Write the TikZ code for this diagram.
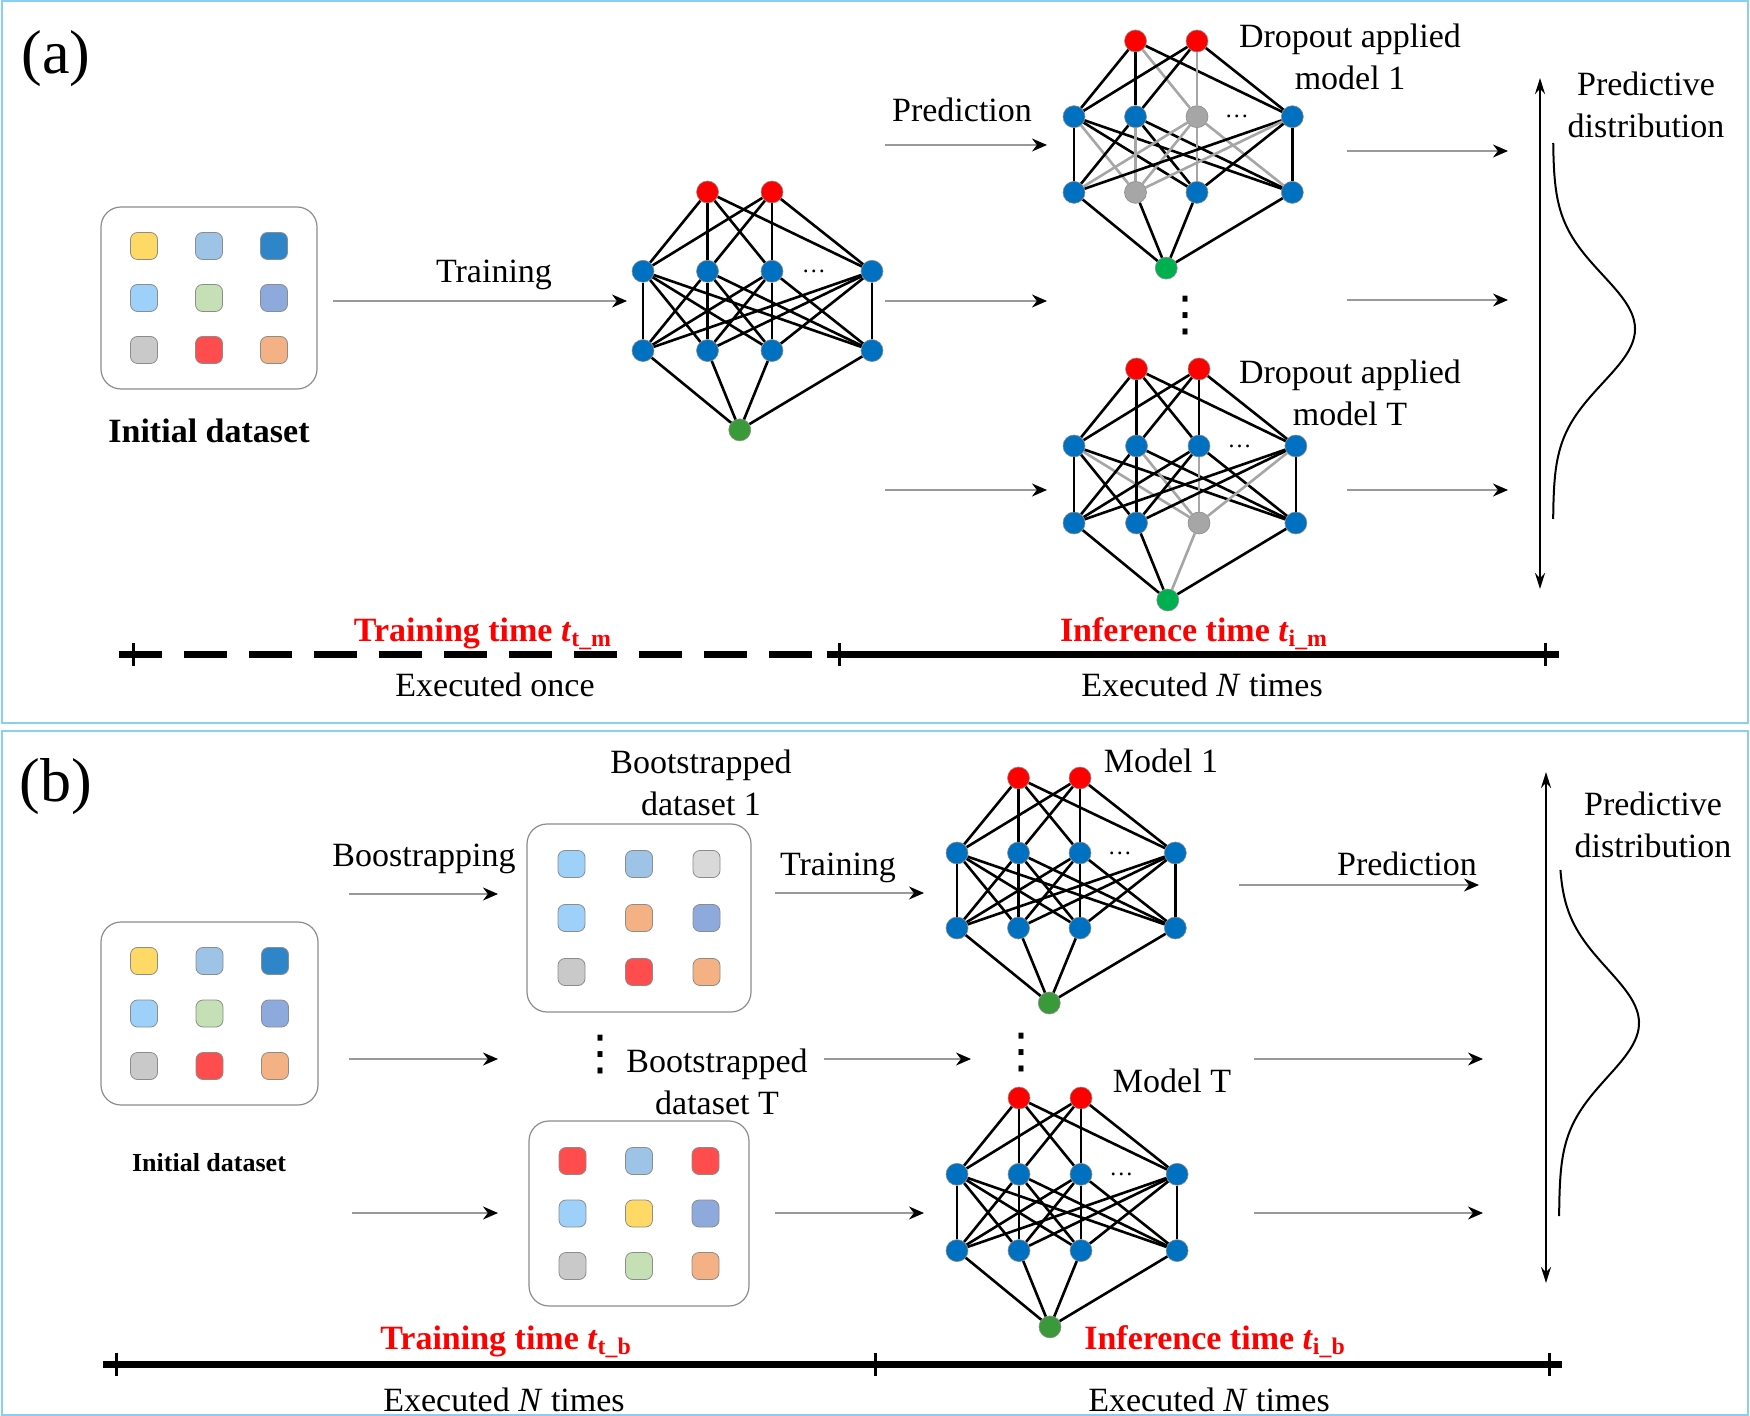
\documentclass[tikz,border=0pt]{standalone}
\usepackage{fontspec}
\setmainfont{Liberation Serif}
\newfontfamily\symfont{DejaVu Sans}
\usepackage{tikz}
\usetikzlibrary{arrows.meta}
\usetikzlibrary{positioning}

\definecolor{framecol}{HTML}{8ACFF2}
\definecolor{netblue}{HTML}{0070C0}
\definecolor{outred}{HTML}{FF0000}
\definecolor{ingreen}{HTML}{3A9A3A}
\definecolor{brightgreen}{HTML}{00B050}
\definecolor{dropgrey}{HTML}{A6A6A6}
\definecolor{cyellow}{HTML}{FFD966}
\definecolor{csteel}{HTML}{9DC3E6}
\definecolor{cblue}{HTML}{2E86C8}
\definecolor{csky}{HTML}{9DD1F9}
\definecolor{cgreen}{HTML}{C5E0B4}
\definecolor{cviolet}{HTML}{8EA9DB}
\definecolor{cgrey}{HTML}{C9C9C9}
\definecolor{clightgrey}{HTML}{D9D9D9}
\definecolor{cred}{HTML}{FF4D4D}
\definecolor{corange}{HTML}{F4B183}

% network: name, first column x, output row y, column step, row step,
% dropped hidden node, dropped lower node, grey link to input, input colour
\newcommand{\drawnet}[9]{%
  \begin{scope}[shift={(#2,#3)}]
    \node[neuron, fill=outred] (#1o1) at (#4,0) {};
    \node[neuron, fill=outred] (#1o2) at (2*#4,0) {};
    \foreach \i/\xc in {1/0,2/1,3/2,4/3.55}{
      \ifnum\i=#6 \def\fc{dropgrey}\else\def\fc{netblue}\fi
      \node[neuron, fill=\fc] (#1m\i) at (\xc*#4,#5) {};
      \ifnum\i=#7 \def\fc{dropgrey}\else\def\fc{netblue}\fi
      \node[neuron, fill=\fc] (#1l\i) at (\xc*#4,2*#5) {};
    }
    \node[neuron, fill=#9] (#1in) at (1.5*#4,3*#5) {};
    \node[font=\fontsize{12}{14}\selectfont] (#1dots) at (2.65*#4,#5) {…};
    \foreach \a in {1,2}{\foreach \b in {1,...,4}{
      \ifnum\b=#6 \def\lc{dropgrey}\else\def\lc{black}\fi
      \draw[link, draw=\lc] (#1o\a) -- (#1m\b);}}
    \foreach \a in {1,...,4}{\foreach \b in {1,...,4}{
      \def\lc{black}\ifnum\a=#6 \def\lc{dropgrey}\fi\ifnum\b=#7 \def\lc{dropgrey}\fi
      \draw[link, draw=\lc] (#1m\a) -- (#1l\b);}}
    \foreach \b in {1,...,4}{
      \ifnum\b=#8 \def\lc{dropgrey}\else\def\lc{black}\fi
      \draw[link, draw=\lc] (#1l\b) -- (#1in);}
  \end{scope}}

% dataset: name, centre x, centre y, box width, box height, cell steps, cell colours
\newcommand{\dataset}[8]{%
  \node[databox, minimum width=#4*0.5pt, minimum height=#5*0.5pt] (#1) at (#2,#3) {};
  \foreach \fc [count=\k from 0] in {#8}{
    \pgfmathtruncatemacro\cellrow{\k/3}
    \pgfmathtruncatemacro\cellcol{mod(\k,3)}
    \node[cell, fill=\fc] (#1c\k) at ({#2+(\cellcol-1)*#6},{#3+(\cellrow-1)*#7}) {};
  }}

\begin{document}
\begin{tikzpicture}[x=0.5pt,y=-0.5pt,
    every node/.style={font=\fontsize{17}{21}\selectfont},
    neuron/.style={circle,draw=black!45,line width=0.3pt,minimum size=11pt,inner sep=0pt},
    link/.style={line width=1.3pt},
    databox/.style={draw=black!45,line width=0.6pt,rounded corners=10pt},
    cell/.style={draw=black!45,line width=0.4pt,rounded corners=3.5pt,minimum size=13.5pt,inner sep=0pt},
    flow/.style={draw=black!40,line width=0.8pt,-{Stealth[color=black,length=7.5pt,width=6.5pt]}},
    dist/.style={line width=1pt,{Stealth[length=8pt,width=5pt]}-{Stealth[length=8pt,width=5pt]}},
    axis/.style={line width=3.5pt},
    tick/.style={line width=1.5pt},
    lbl/.style={align=center,inner sep=0pt},
    vd/.style={font=\symfont\fontsize{24}{28}\selectfont,inner sep=0pt},
    timelbl/.style={text=red,font=\fontsize{17}{21}\selectfont\bfseries,inner sep=0pt},
    panel/.style={font=\fontsize{31}{36}\selectfont,inner sep=0pt}]

  \useasboundingbox (0,0) rectangle (1750,1416);
  \draw[framecol,line width=1pt] (1.5,1.5) rectangle (1748,723);
  \draw[framecol,line width=1pt] (1.5,731) rectangle (1748,1414.5);

  %%% (a) MC dropout
  \node[panel] (labA) at (56,59) {(a)};
  \dataset{dsA}{209}{298}{216}{182}{65}{52}{cyellow,csteel,cblue,csky,cgreen,cviolet,cgrey,cred,corange}
  \node[font=\fontsize{17}{21}\selectfont\bfseries] (dsAlbl) at (209,431) {Initial dataset};

  \coordinate (trAs) at (333,301);
  \coordinate (trAe) at (627,301);
  \draw[flow] (trAs) -- (trAe);
  \node (trAlbl) at (494,275) {Training};

  \drawnet{nA}{643}{192}{64.5}{79.3}{0}{0}{0}{ingreen}
  \drawnet{mA}{1074}{41}{61.5}{75.7}{3}{2}{0}{brightgreen}
  \drawnet{tA}{1074}{369}{62.5}{77}{0}{3}{3}{brightgreen}

  \foreach \y [count=\k] in {145,301,490}{
    \coordinate (pAs\k) at (885,\y);
    \coordinate (pAe\k) at (1047,\y);
    \draw[flow] (pAs\k) -- (pAe\k);
  }
  \node (prAlbl) at (962,110) {Prediction};
  \node[vd] (vdA) at (1185,316) {⋮};
  \node[lbl] (mAlbl) at (1350,57) {Dropout applied\\model 1};
  \node[lbl] (tAlbl) at (1350,393) {Dropout applied\\model T};

  \foreach \y [count=\k] in {151,300,490}{
    \coordinate (oAs\k) at (1347,\y);
    \coordinate (oAe\k) at (1508,\y);
    \draw[flow] (oAs\k) -- (oAe\k);
  }
  \coordinate (dAt) at (1540,78);
  \coordinate (dAb) at (1540,589);
  \draw[dist] (dAt) -- (dAb);
  \draw[line width=1pt] plot[variable=\t,domain=143:519,samples=90,smooth]
    ({1553+82*exp(-0.5*((\t-329)/54)^2)},\t);
  \node[lbl] (pdAlbl) at (1646,105) {Predictive\\distribution};

  % time line (a)
  \coordinate (tlA0) at (119,655);
  \coordinate (tlA1) at (820,655);
  \coordinate (tlA2) at (827,655);
  \coordinate (tlA3) at (1559,655);
  \draw[axis,dash pattern=on 21.5pt off 11pt] (tlA0) -- (tlA1);
  \draw[axis] (tlA2) -- (tlA3);
  \foreach \x [count=\k] in {133,839,1545}{
    \coordinate (tkA\k) at (\x,655);
    \draw[tick] ([yshift=5.75pt]tkA\k) -- ([yshift=-5.75pt]tkA\k);
  }
  \node[timelbl] (ttA) at (483,634) {Training time \textit{t}\textsubscript{t\_m}};
  \node[timelbl] (itA) at (1194,634) {Inference time \textit{t}\textsubscript{i\_m}};
  \node (exA1) at (495,685) {Executed once};
  \node (exA2) at (1202,685) {Executed \textit{N} times};

  %%% (b) bootstrapping
  \node[panel] (labB) at (56,787) {(b)};
  \dataset{dsB}{209.5}{1013.5}{217}{183}{65.5}{52.5}{cyellow,csteel,cblue,csky,cgreen,cviolet,cgrey,cred,corange}
  \node[font=\fontsize{13}{16}\selectfont\bfseries] (dsBlbl) at (209,1163) {Initial dataset};

  \dataset{bs1}{639}{918}{224}{188}{67.5}{54}{csky,csteel,clightgrey,csky,corange,cviolet,cgrey,cred,corange}
  \node[lbl] (bs1lbl) at (701,783) {Bootstrapped\\dataset 1};
  \dataset{bsT}{639}{1213.5}{220}{185}{66.5}{52.5}{cred,csteel,cred,csky,cyellow,cviolet,cgrey,cgreen,corange}
  \node[lbl] (bsTlbl) at (717,1082) {Bootstrapped\\dataset T};
  \node[vd] (vdB1) at (600,1055) {⋮};

  \foreach \y/\xs [count=\k] in {894/349,1059/349,1213/352}{
    \coordinate (bAs\k) at (\xs,\y);
    \coordinate (bAe\k) at (498,\y);
    \draw[flow] (bAs\k) -- (bAe\k);
  }
  \node (bsBlbl) at (424,859) {Boostrapping};

  \foreach \y/\xs/\xe [count=\k] in {893/775/924,1059/824/971,1213/775/924}{
    \coordinate (tBs\k) at (\xs,\y);
    \coordinate (tBe\k) at (\xe,\y);
    \draw[flow] (tBs\k) -- (tBe\k);
  }
  \node (trBlbl) at (838,868) {Training};

  \drawnet{mB}{957}{778}{61.5}{75}{0}{0}{0}{ingreen}
  \drawnet{tB}{957}{1098}{62}{76.3}{0}{0}{0}{ingreen}
  \node (mBlbl) at (1161,761) {Model 1};
  \node (tBlbl) at (1172,1081) {Model T};
  \node[vd] (vdB2) at (1021,1053) {⋮};

  \foreach \y/\xs/\xe [count=\k] in {885/1239/1479,1059/1254/1483,1213/1254/1483}{
    \coordinate (oBs\k) at (\xs,\y);
    \coordinate (oBe\k) at (\xe,\y);
    \draw[flow] (oBs\k) -- (oBe\k);
  }
  \node (prBlbl) at (1407,864) {Prediction};

  \coordinate (dBt) at (1546,772);
  \coordinate (dBb) at (1546,1283);
  \draw[dist] (dBt) -- (dBb);
  \draw[line width=1pt] plot[variable=\t,domain=870:1216,samples=90,smooth]
    ({1559+80*exp(-0.5*((\t-1023)/54)^2)},\t);
  \node[lbl] (pdBlbl) at (1653,825) {Predictive\\distribution};

  % time line (b)
  \coordinate (tlB0) at (103,1364);
  \coordinate (tlB1) at (1562,1364);
  \draw[axis] (tlB0) -- (tlB1);
  \foreach \x [count=\k] in {116,875,1549}{
    \coordinate (tkB\k) at (\x,1364);
    \draw[tick] ([yshift=5.75pt]tkB\k) -- ([yshift=-5.75pt]tkB\k);
  }
  \node[timelbl] (ttB) at (506,1342) {Training time \textit{t}\textsubscript{t\_b}};
  \node[timelbl] (itB) at (1215,1342) {Inference time \textit{t}\textsubscript{i\_b}};
  \node (exB1) at (504,1400) {Executed \textit{N} times};
  \node (exB2) at (1209,1400) {Executed \textit{N} times};
\end{tikzpicture}
\end{document}
